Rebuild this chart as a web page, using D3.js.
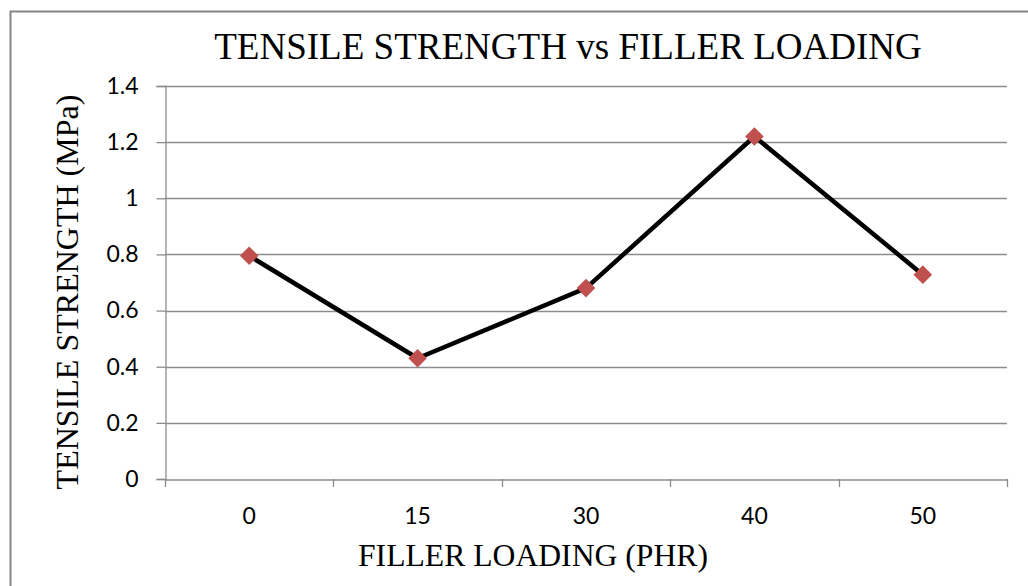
<!DOCTYPE html>
<html><head><meta charset="utf-8">
<script src="https://cdn.jsdelivr.net/npm/d3@7"></script>
<style>html,body{margin:0;padding:0;background:#fff;}svg{display:block;}
.tk{font-family:Lato,'Open Sans',sans-serif;font-size:23px;fill:#000;}</style>
</head><body>
<svg id="c" width="1028" height="586"></svg>
<script>
const categories = ["0", "15", "30", "40", "50"];
const tensileStrength = [0.795, 0.43, 0.68, 1.22, 0.728];
const yTicks = [0, 0.2, 0.4, 0.6, 0.8, 1, 1.2, 1.4];
const titleText = "TENSILE STRENGTH vs FILLER LOADING";
const xTitleText = "FILLER LOADING (PHR)";
const yTitleText = "TENSILE STRENGTH (MPa)";

const svg = d3.select("#c");
const m = {left:165, right:1007, top:86, bottom:479};

svg.append("rect").attr("x",10.5).attr("y",11.5).attr("width",1040).attr("height",600)
  .attr("fill","#fff").attr("stroke","#868686").attr("stroke-width",2);

const x = d3.scaleBand().domain(categories).range([m.left, m.right]).padding(0);
const y = d3.scaleLinear().domain([0,1.4]).range([m.bottom, m.top]);

const serif = "'Liberation Serif','DejaVu Serif',serif";

// gridlines
svg.append("g").selectAll("line").data(yTicks.filter(d=>d>0)).join("line")
  .attr("x1",m.left).attr("x2",m.right)
  .attr("y1",d=>Math.round(y(d))+0.5).attr("y2",d=>Math.round(y(d))+0.5)
  .attr("stroke","#8c8c8c").attr("stroke-width",1.3);

// y axis
const yAxis = svg.append("g").attr("transform",`translate(${m.left+0.5},0)`)
  .call(d3.axisLeft(y).tickValues(yTicks).tickSize(9).tickPadding(18).tickFormat(d=>String(d)));
yAxis.attr("font-size",null).attr("font-family",null);
yAxis.select(".domain").attr("stroke","#8c8c8c").attr("stroke-width",1.3);
yAxis.selectAll(".tick line").attr("stroke","#8c8c8c").attr("stroke-width",1.3);
yAxis.selectAll(".tick text").attr("class","tk").attr("fill","#000");

// x axis
const xAxis = svg.append("g").attr("transform",`translate(0,${Math.round(m.bottom)+0.5})`)
  .call(d3.axisBottom(x).tickSize(0).tickPadding(28));
xAxis.attr("font-size",null).attr("font-family",null);
xAxis.select(".domain").attr("stroke","#8c8c8c").attr("stroke-width",1.3);
xAxis.selectAll(".tick text").attr("class","tk").attr("fill","#000");
// category boundary tick marks
const bounds = categories.map(c=>x(c)).concat([m.right]);
svg.append("g").selectAll("line").data(bounds).join("line")
  .attr("x1",d=>Math.round(d)+0.5).attr("x2",d=>Math.round(d)+0.5)
  .attr("y1",m.bottom).attr("y2",m.bottom+8)
  .attr("stroke","#8c8c8c").attr("stroke-width",1.3);

// line
const cx = c => x(c) + x.bandwidth()/2;
const line = d3.line().x((d,i)=>cx(categories[i])).y(d=>y(d));
svg.append("path").datum(tensileStrength).attr("d",line)
  .attr("fill","none").attr("stroke","#000").attr("stroke-width",4.5).attr("stroke-linejoin","round");

// markers
svg.append("g").selectAll("path").data(tensileStrength).join("path")
  .attr("transform",(d,i)=>`translate(${cx(categories[i])},${y(d)})`)
  .attr("d",d3.symbol().type(d3.symbolDiamond2).size(220))
  .attr("fill","#C0504D");

// titles
function fitText(sel, w){ const n=sel.node(); const l=n.getComputedTextLength(); const fs=parseFloat(sel.attr("font-size")); sel.attr("font-size", fs*w/l); }
const t = svg.append("text").attr("x",568).attr("y",59).attr("text-anchor","middle")
  .attr("font-family",serif).attr("font-size",34).attr("fill","#000").text(titleText);
fitText(t,708);
const xt = svg.append("text").attr("x",533).attr("y",566).attr("text-anchor","middle")
  .attr("font-family",serif).attr("font-size",28).attr("fill","#000").text(xTitleText);
fitText(xt,350);
const yt = svg.append("text").attr("transform","translate(78,292) rotate(-90)").attr("text-anchor","middle")
  .attr("font-family",serif).attr("font-size",28).attr("fill","#000").text(yTitleText);
fitText(yt,395);
</script>
</body></html>
